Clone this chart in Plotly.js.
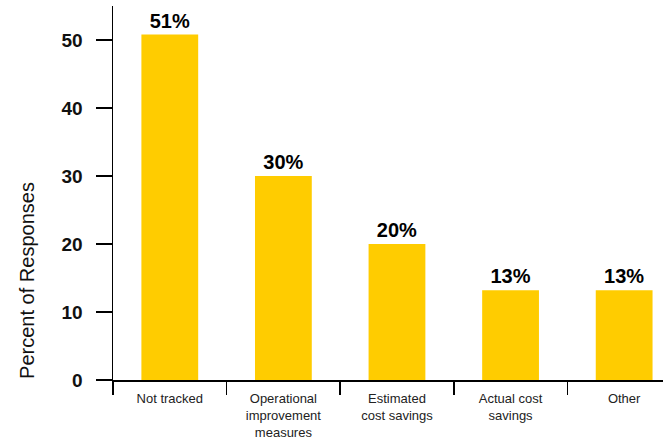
<!DOCTYPE html>
<html><head><meta charset="utf-8">
<script src="https://cdn.plot.ly/plotly-3.0.1.min.js"></script>
<style>html,body{margin:0;padding:0;background:#fff}#chart{width:663px;height:443px}</style>
</head><body><div id="chart"></div>
<script>
const categories = ["Not tracked", "Operational<br>improvement<br>measures", "Estimated<br>cost savings", "Actual cost<br>savings", "Other"];
const values = [50.8, 30, 20, 13.2, 13.2];
const labels = ["51%", "30%", "20%", "13%", "13%"];
const yTicks = [0, 10, 20, 30, 40, 50];
const yTitle = "Percent of Responses";

const trace = {
  type: "bar",
  x: categories,
  y: values,
  text: labels,
  textposition: "outside",
  cliponaxis: false,
  textfont: {family: "Liberation Sans, Arial, sans-serif", size: 20, color: "#000", weight: "bold"},
  marker: {color: "#FFCC00"},
  width: 0.5,
  hoverinfo: "none"
};

const layout = {
  width: 663, height: 443,
  margin: {l: 113, r: 0, t: 6, b: 63},
  paper_bgcolor: "#fff", plot_bgcolor: "#fff",
  showlegend: false,
  xaxis: {
    type: "category",
    range: [-0.5, 4.342],
    tickson: "boundaries",
    ticks: "outside", ticklen: 13, tickwidth: 1.5, tickcolor: "#000",
    showline: true, linecolor: "#000", linewidth: 1.5,
    showgrid: false, zeroline: false,
    ticklabelstandoff: 6,
    tickfont: {family: "Liberation Sans, Arial, sans-serif", size: 13, color: "#222"}
  },
  yaxis: {
    range: [0, 55],
    tickvals: yTicks,
    ticktext: yTicks.map(String),
    ticks: "outside", ticklen: 16, tickwidth: 1.5, tickcolor: "#000",
    showline: true, linecolor: "#000", linewidth: 1.5,
    showgrid: false, zeroline: false,
    ticklabelstandoff: 9,
    tickfont: {family: "Liberation Sans, Arial, sans-serif", size: 19, color: "#111", weight: "bold"}
  },
  annotations: [{
    text: yTitle, textangle: -90, showarrow: false,
    xref: "paper", yref: "paper", x: 0, y: 0.265,
    xanchor: "center", yanchor: "middle", xshift: -86,
    font: {family: "Liberation Sans, Arial, sans-serif", size: 20, color: "#111"}
  }]
};

Plotly.newPlot("chart", [trace], layout, {displayModeBar: false, staticPlot: true});
</script></body></html>
